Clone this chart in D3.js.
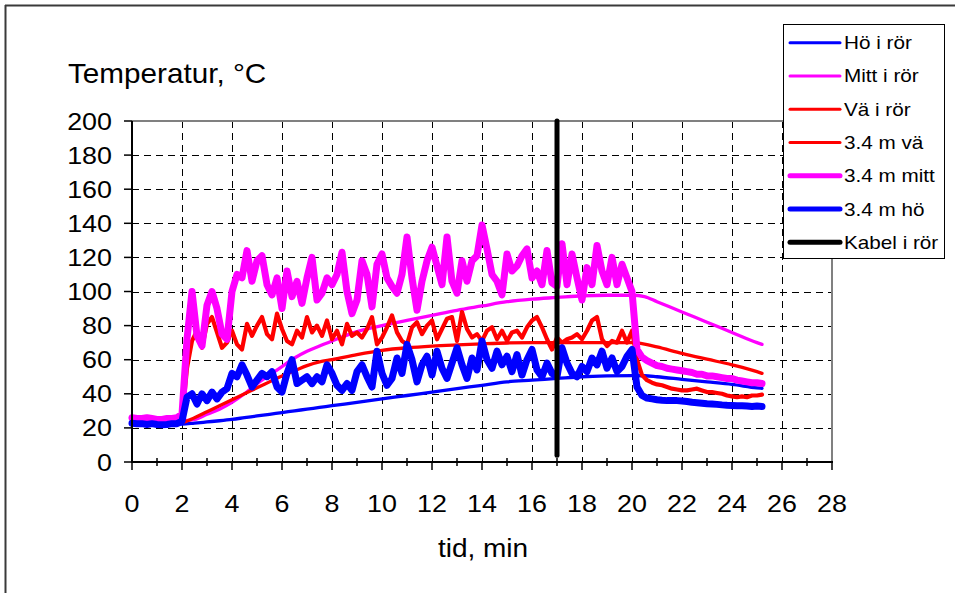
<!DOCTYPE html>
<html><head><meta charset="utf-8">
<script src="https://cdn.jsdelivr.net/npm/d3@7"></script>
<style>body{margin:0;background:#fff}svg{display:block;font-family:"Liberation Sans",Arial,sans-serif}</style>
</head><body><svg id="c" width="955" height="593"></svg>
<script>
// ---- data ----
const xTicks = [0,2,4,6,8,10,12,14,16,18,20,22,24,26,28];
const yTicks = [0,20,40,60,80,100,120,140,160,180,200];
const seriesNames = ["Hö i rör","Mitt i rör","Vä i rör","3.4 m vä","3.4 m mitt","3.4 m hö","Kabel i rör"];

const smoothTime = [0,1,2,2.5,3,3.5,4,4.5,5,5.5,6,6.5,7,7.5,8,9,10,11,12,13,14,15,16,17,18,19,20,20.5,21,22,23,24,25,25.2];
const hoIRor   = [22.3,22,22.2,22.8,23.5,24.2,25,26,27,28,29,30,31,32,33,35,37,39,41,43,45,47,48,49,50,50.5,50.7,50.6,50,48.5,47,45.5,43.5,43.2];
const mittIRor = [24,24,24.2,25,28,31,35,40,46,51,56,61,65,68,71,76.5,80,83,86,89,91.5,94,95.5,96.5,97.5,97.8,97.8,97,94,88,82,76,70,69];
const vaIRor   = [23,23,23.3,26,29.5,33,36.5,40,43.5,47,50.5,53.5,56.5,58.7,60,63,65.5,67,68,68.7,69.3,69.8,70,70,70,70,70,69.2,67.5,63.7,60.3,57,53,52];

const noisyTime = [0,0.2,0.4,0.6,0.8,1,1.2,1.4,1.6,1.8,2,2.2,2.4,2.6,2.8,3,3.2,3.4,3.6,3.8,4,4.2,4.4,4.6,4.8,5,5.2,5.4,5.6,5.8,6,6.2,6.4,6.6,6.8,7,7.2,7.4,7.6,7.8,8,8.2,8.4,8.6,8.8,9,9.2,9.4,9.6,9.8,10,10.2,10.4,10.6,10.8,11,11.2,11.4,11.6,11.8,12,12.2,12.4,12.6,12.8,13,13.2,13.4,13.6,13.8,14,14.2,14.4,14.6,14.8,15,15.2,15.4,15.6,15.8,16,16.2,16.4,16.6,16.8,17,17.2,17.4,17.6,17.8,18,18.2,18.4,18.6,18.8,19,19.2,19.4,19.6,19.8,20,20.2,20.4,20.6,20.8,21,21.2,21.4,21.6,21.8,22,22.2,22.4,22.6,22.8,23,23.2,23.4,23.6,23.8,24,24.2,24.4,24.6,24.8,25,25.2];
const m34Va = [24.5,24.5,24,24.5,24.5,24,24,24.5,24.5,24.5,25,55,71,77,67,81,85,76,67,70,77,69,66,81,74,80,85,75,72,87,78,71,69,77,73,85,76,80,74,83,72,77,69,81,74,76,73,78,85,69,73,79,86,76,71,69,79,82,75,80,83,72,78,84,85,71,88,78,73,75,71,77,79,72,77,71,76,77,73,79,83,85,79,72,66,73,70,72,73,75,72,77,83,85,72,68,71,70,77,70,77,60,51,48,46.5,45.5,45,44,43,42.5,42,42,42.5,43,42,41,41,40.5,40,39,38.5,38,38.5,38,39,39,39.5];
const m34Mitt = [26,25.5,25.5,26,25.5,25,25,25.5,25.5,26,28,72,100,74,68,92,100,90,75,72,100,110,108,124,106,118,121,104,98,108,90,112,97,106,93,108,120,95,99,108,104,110,123,100,87,95,118,110,91,116,122,108,103,99,110,132,108,89,106,118,126,115,104,132,106,99,118,106,118,121,139,125,110,106,98,122,112,115,121,125,108,112,104,124,105,103,128,104,122,108,95,114,104,127,112,104,120,104,116,108,100,66,61.5,59.5,58,56.5,56,55,54.5,54,53.5,53,52.5,51.5,51.5,50.5,50.5,50,49.5,49,49,48,47.5,47,46.5,46.5,46];
const m34Ho = [22.7,22.5,22.5,22,22.5,22,21.8,22,22.5,22.5,24,38,40,34,40,36,41,37,41,43,52,50,57,51,44,48,52,50,53,44,41,52,60,46,48,50,46,50,47,57,52,45,42,46,42,53,57,50,44,65,52,45,49,61,52,69,60,47,57,62,51,65,55,49,58,67,57,49,61,54,71,60,55,65,57,62,53,63,51,60,66,54,50,58,52,50,67,58,52,50,56,53,61,57,65,55,61,53,56,62,66,44,39,37.5,37,36.5,36.2,36,36,36,35.8,35.5,35,34.8,34.5,34.2,34,33.8,33.5,33.3,33.2,33,33,32.8,32.5,32.8,32.6];
const kabelTime = [17,17];
const kabelTemp = [200,4];

// ---- chart ----
const svg = d3.select("#c");
const x = d3.scaleLinear().domain([0,28]).range([132,832]);
const y = d3.scaleLinear().domain([0,200]).range([462,121]);
const SX = 1.12;

// outer frame
svg.append("line").attr("x1",5).attr("x2",955).attr("y1",5.5).attr("y2",5.5).attr("stroke","#3a3a3a").attr("stroke-width",2);
svg.append("line").attr("x1",5.5).attr("x2",5.5).attr("y1",5).attr("y2",593).attr("stroke","#3a3a3a").attr("stroke-width",2);

function txt(px, py, s, size, anchor, sx){
  svg.append("text").attr("transform",`translate(${px},${py}) scale(${sx},1)`)
    .attr("font-size",size).attr("text-anchor",anchor).attr("fill","#000").text(s);
}

// grid
const grid = svg.append("g");
xTicks.filter(v=>v>0 && v<28).forEach(v=>{
  grid.append("line").attr("x1",Math.round(x(v))+0.5).attr("x2",Math.round(x(v))+0.5)
    .attr("y1",y(200)).attr("y2",y(0)).attr("stroke","#000").attr("stroke-width",1).attr("stroke-dasharray","7,5");
});
yTicks.filter(v=>v>0 && v<200).forEach(v=>{
  grid.append("line").attr("x1",x(0)).attr("x2",x(28))
    .attr("y1",Math.round(y(v))+0.5).attr("y2",Math.round(y(v))+0.5).attr("stroke","#000").attr("stroke-width",1).attr("stroke-dasharray","7,5");
});
// top & right border
svg.append("line").attr("x1",x(0)).attr("x2",x(28)).attr("y1",y(200)).attr("y2",y(200)).attr("stroke","#808080").attr("stroke-width",2);
svg.append("line").attr("x1",x(28)).attr("x2",x(28)).attr("y1",y(200)).attr("y2",y(0)).attr("stroke","#808080").attr("stroke-width",2);

// series lines
const lineGen = (times) => d3.line().x((d,i)=>x(times[i])).y(d=>y(d));
const series = [
  {name:seriesNames[0], t:smoothTime, v:hoIRor, color:"#0000ff", w:3.3, lw:3, curve:d3.curveMonotoneX},
  {name:seriesNames[1], t:smoothTime, v:mittIRor, color:"#ff00ff", w:3.3, lw:3, curve:d3.curveMonotoneX},
  {name:seriesNames[2], t:smoothTime, v:vaIRor, color:"#ff0000", w:3.3, lw:3, curve:d3.curveMonotoneX},
  {name:seriesNames[3], t:noisyTime, v:m34Va, color:"#ff0000", w:4.2, lw:3, curve:d3.curveLinear},
  {name:seriesNames[4], t:noisyTime, v:m34Mitt, color:"#ff00ff", w:7, lw:5, curve:d3.curveLinear},
  {name:seriesNames[5], t:noisyTime, v:m34Ho, color:"#0000ff", w:7, lw:5, curve:d3.curveLinear},
  {name:seriesNames[6], t:kabelTime, v:kabelTemp, color:"#000000", w:5, lw:5, curve:d3.curveLinear}
];
const lg = svg.append("g");
series.forEach(s=>{
  lg.append("path").attr("d", lineGen(s.t).curve(s.curve)(s.v))
    .attr("fill","none").attr("stroke",s.color).attr("stroke-width",s.w)
    .attr("stroke-linejoin","round").attr("stroke-linecap","round");
});

// axes lines
svg.append("line").attr("x1",x(0)).attr("x2",x(0)).attr("y1",y(200)).attr("y2",y(0)).attr("stroke","#000").attr("stroke-width",2);
svg.append("line").attr("x1",x(0)-1).attr("x2",x(28)+1).attr("y1",y(0)).attr("y2",y(0)).attr("stroke","#000").attr("stroke-width",2);
// y ticks + labels
yTicks.forEach(v=>{
  svg.append("line").attr("x1",x(0)-8).attr("x2",x(0)).attr("y1",y(v)).attr("y2",y(v)).attr("stroke","#000").attr("stroke-width",1.5);
  txt(112, y(v)+8.5, String(v), 24, "end", SX);
});
// x ticks (major every 2, minor every 1)
d3.range(0,29,1).forEach(v=>{
  const major = v%2===0;
  svg.append("line").attr("x1",x(v)).attr("x2",x(v))
    .attr("y1", major? y(0) : y(0)-4).attr("y2", y(0)+ (major?8:4))
    .attr("stroke","#000").attr("stroke-width",1.5);
});
xTicks.forEach(v=> txt(x(v), 512, String(v), 24, "middle", SX));

// titles
txt(68, 83, "Temperatur, °C", 28, "start", 1.06);
txt(483, 557, "tid, min", 25, "middle", SX);

// legend
const leg = svg.append("g");
leg.append("rect").attr("x",783.5).attr("y",24.5).attr("width",161).attr("height",234)
  .attr("fill","#fff").attr("stroke","#000").attr("stroke-width",1);
series.forEach((s,i)=>{
  const cy = 42.7 + i*33.27;
  leg.append("line").attr("x1",790).attr("x2",840).attr("y1",cy).attr("y2",cy)
    .attr("stroke",s.color).attr("stroke-width", s.lw).attr("stroke-linecap","round");
  svg.append("text").attr("transform",`translate(844,${cy+6.5}) scale(1.15,1)`)
    .attr("font-size",18).attr("fill","#000").text(s.name);
});
</script></body></html>
